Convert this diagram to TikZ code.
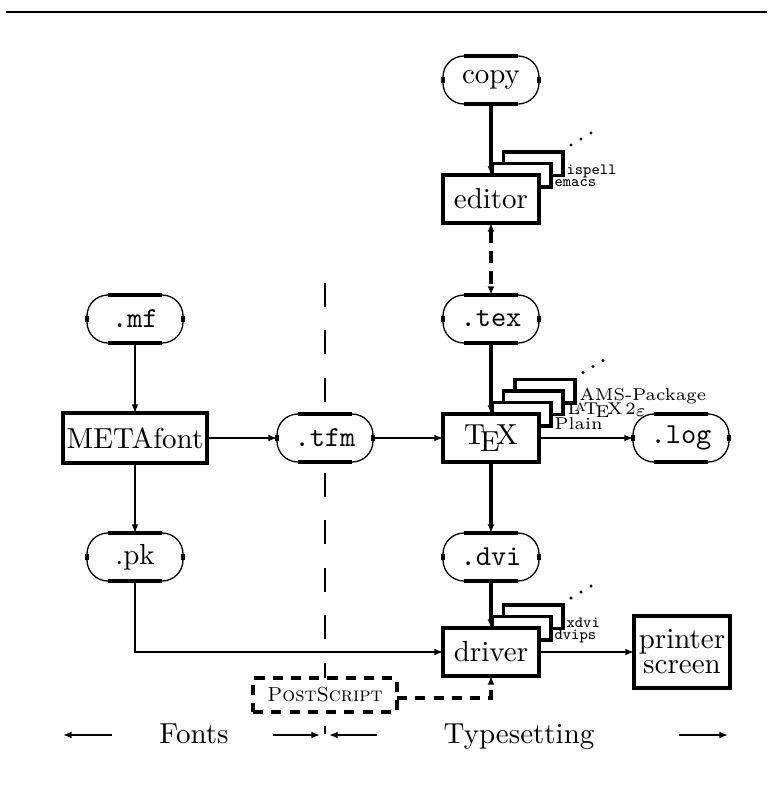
\documentclass[tikz,border=0pt]{standalone}
\usepackage{amsmath}
\usetikzlibrary{calc, arrows.meta, backgrounds}
\tikzset{>={Latex[length=3pt,width=2.4pt]}}
\tikzset{
  term/.style={draw, line width=0.45pt, rounded corners=7.245pt, fill=white, minimum width=33.12pt, minimum height=16.56pt, inner sep=0pt, outer sep=0pt},
  proc/.style={draw, line width=1.2pt, fill=white, minimum width=33.12pt, minimum height=16.56pt, inner sep=0pt, outer sep=0pt},
  thinarrow/.style={->, line width=0.7pt},
  thickarrow/.style={->, line width=1.2pt},
  ttlab/.style={anchor=base west, inner sep=0pt, font=\fontsize{5.4}{6}\selectfont\ttfamily},
  rmlab/.style={anchor=base west, inner sep=0pt, font=\fontsize{5.9}{6.5}\selectfont}
}

\begin{document}
\begin{tikzpicture}[x=0.345pt, y=-0.345pt]
\useasboundingbox (0,0) rectangle (767,786);
\draw[line width=0.8pt] (6,12) -- (767,12);
\draw[line width=1pt, dash pattern=on 8.28pt off 8.1pt] (325,283) -- (325,700);
\draw[line width=1pt] (325,726) -- (325,734);
\node[term] (copy) at (491,80) {copy};
\node[proc] (editor) at (491,199) {editor};
\node[term, font=\ttfamily] (tex) at (491,319) {.tex};
\node[term, font=\ttfamily] (mf) at (135,319) {.mf};
\node[proc, minimum width=49.68pt, minimum height=17.25pt] (metafont) at (135,438) {METAfont};
\node[term, font=\ttfamily] (tfm) at (325,438) {.tfm};
\node[proc] (texbox) at (491,438) {\TeX};
\node[term, font=\ttfamily] (log) at (681,438) {.log};
\node[term] (pk) at (135,557) {.pk};
\node[term, font=\ttfamily] (dvi) at (491,557) {.dvi};
\node[proc] (driver) at (491,652) {driver};
\node[proc, minimum height=24.84pt, align=center] (printer) at (682,652) {printer\\[-3.3pt]screen};
\node[proc, dash pattern=on 3.5pt off 2.8pt, minimum width=49.68pt, minimum height=11.73pt, font=\scriptsize] (post) at (325,695) {\textsc{PostScript}};
\foreach \t in {copy,tex,mf,tfm,log,pk,dvi} {
  \draw[line width=1.2pt] ($(\t.north west)+(21,0)$) -- ($(\t.north east)+(-21,0)$);
  \draw[line width=1.2pt] ($(\t.south west)+(21,0)$) -- ($(\t.south east)+(-21,0)$);
  \draw[line width=1.2pt] ($(\t.north west)+(0,21)$) -- ($(\t.south west)+(0,-21)$);
  \draw[line width=1.2pt] ($(\t.north east)+(0,21)$) -- ($(\t.south east)+(0,-21)$);
}
\begin{pgfonlayer}{background}
\foreach \bx/\n in {editor/2, texbox/3, driver/2} {
  \foreach \i in {\n,...,1}
    \filldraw[fill=white, line width=1.2pt] ($(\bx.north)+({1+11.5*(\i-1)},{-11.5*\i})$) rectangle ($(\bx.north east)+({12*\i},{12-11.5*(\i-1)})$);
  \foreach \k in {0,1,2}
    \fill ($(\bx.north east)+({12*\n+8+10*\k},{-11.5*\n-7-6*\k})$) circle[radius=0.6pt];
}
\end{pgfonlayer}
\node[ttlab] (emacs) at ($(editor.north east)+(15,11)$) {emacs};
\node[ttlab] (ispell) at ($(editor.north east)+(27,-0.5)$) {ispell};
\node[rmlab] (plain) at ($(texbox.north east)+(15,15)$) {Plain};
\node[rmlab] (latex) at ($(texbox.north east)+(28,0)$) {\LaTeXe};
\node[rmlab] (ams) at ($(texbox.north east)+(40,-14)$) {AMS-Package};
\node[ttlab] (dvips) at ($(driver.north east)+(15,11)$) {dvips};
\node[ttlab] (xdvi) at ($(driver.north east)+(27,-0.5)$) {xdvi};
\draw[thickarrow] (copy) -- (editor);
\draw[<->, line width=1.2pt, dash pattern=on 4.2pt off 2.8pt] (editor) -- (tex);
\draw[thickarrow] (tex) -- (texbox);
\draw[thickarrow] (texbox) -- (dvi);
\draw[thickarrow] (dvi) -- (driver);
\draw[thinarrow] (mf) -- (metafont);
\draw[thinarrow] (metafont) -- (pk);
\draw[thinarrow] (metafont) -- (tfm);
\draw[thinarrow] (tfm) -- (texbox);
\draw[thinarrow] (texbox) -- (log);
\draw[thinarrow] (pk) |- (driver);
\draw[thinarrow] (driver) -- (printer);
\draw[->, line width=1.2pt, dash pattern=on 3.5pt off 2.8pt] ([yshift=-1pt]post.east) -| (driver);
\node[anchor=base] (fonts) at (194,743) {Fonts};
\node[anchor=base] (typeset) at (519,743) {Typesetting};
\coordinate (fontsA) at (112,735);
\coordinate (fontsB) at (63,735);
\coordinate (fontsC) at (273,735);
\coordinate (fontsD) at (320,735);
\coordinate (typeA) at (377,735);
\coordinate (typeB) at (329,735);
\coordinate (typeC) at (679,735);
\coordinate (typeD) at (728,735);
\draw[thinarrow] (fontsA) -- (fontsB);
\draw[thinarrow] (fontsC) -- (fontsD);
\draw[thinarrow] (typeA) -- (typeB);
\draw[thinarrow] (typeC) -- (typeD);
\end{tikzpicture}
\end{document}
